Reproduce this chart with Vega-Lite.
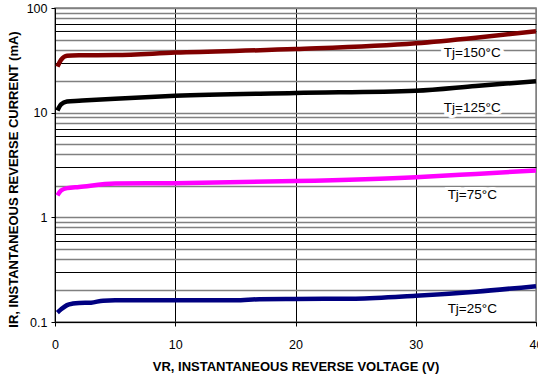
{
  "$schema": "https://vega.github.io/schema/vega-lite/v6.json",
  "width": 481,
  "height": 314,
  "autosize": "none",
  "padding": {"left": 55, "top": 8, "right": 2, "bottom": 57},
  "background": "white",
  "config": {
    "font": "Liberation Sans",
    "view": {"stroke": "#808080", "strokeWidth": 1.5},
    "axis": {"labelFont": "Liberation Sans", "titleFont": "Liberation Sans", "labelColor": "black", "titleColor": "black", "domainColor": "black", "tickColor": "black", "labelFontSize": 12.5, "titleFontSize": 13, "titleFontWeight": "bold"}
  },
  "datasets": {
    "curves": [
      {"v": 0.2, "i": 27.5, "tj": "150"}, {"v": 0.5, "i": 32, "tj": "150"}, {"v": 1, "i": 35, "tj": "150"}, {"v": 2, "i": 35.3, "tj": "150"}, {"v": 5, "i": 35.5, "tj": "150"}, {"v": 10, "i": 37.5, "tj": "150"}, {"v": 20, "i": 40.5, "tj": "150"}, {"v": 30, "i": 46, "tj": "150"}, {"v": 35, "i": 52, "tj": "150"}, {"v": 40, "i": 60, "tj": "150"},
      {"v": 0.2, "i": 10.5, "tj": "125"}, {"v": 0.5, "i": 12, "tj": "125"}, {"v": 1, "i": 12.8, "tj": "125"}, {"v": 2, "i": 13, "tj": "125"}, {"v": 5, "i": 13.6, "tj": "125"}, {"v": 10, "i": 14.5, "tj": "125"}, {"v": 20, "i": 15.4, "tj": "125"}, {"v": 30, "i": 16.2, "tj": "125"}, {"v": 35, "i": 18, "tj": "125"}, {"v": 40, "i": 20, "tj": "125"},
      {"v": 0.2, "i": 1.62, "tj": "75"}, {"v": 0.5, "i": 1.8, "tj": "75"}, {"v": 1, "i": 1.9, "tj": "75"}, {"v": 2, "i": 1.95, "tj": "75"}, {"v": 5, "i": 2.1, "tj": "75"}, {"v": 10, "i": 2.12, "tj": "75"}, {"v": 20, "i": 2.22, "tj": "75"}, {"v": 30, "i": 2.42, "tj": "75"}, {"v": 35, "i": 2.6, "tj": "75"}, {"v": 40, "i": 2.8, "tj": "75"},
      {"v": 0.2, "i": 0.123, "tj": "25"}, {"v": 0.5, "i": 0.132, "tj": "25"}, {"v": 1, "i": 0.145, "tj": "25"}, {"v": 1.5, "i": 0.15, "tj": "25"}, {"v": 2, "i": 0.152, "tj": "25"}, {"v": 3, "i": 0.153, "tj": "25"}, {"v": 4, "i": 0.16, "tj": "25"}, {"v": 5, "i": 0.161, "tj": "25"}, {"v": 10, "i": 0.161, "tj": "25"}, {"v": 15, "i": 0.161, "tj": "25"}, {"v": 17, "i": 0.165, "tj": "25"}, {"v": 20, "i": 0.166, "tj": "25"}, {"v": 25, "i": 0.167, "tj": "25"}, {"v": 30, "i": 0.178, "tj": "25"}, {"v": 35, "i": 0.195, "tj": "25"}, {"v": 40, "i": 0.22, "tj": "25"}
    ],
    "labels": [
      {"v": 34.7, "i": 37.5, "text": "Tj=150°C"},
      {"v": 34.7, "i": 11.2, "text": "Tj=125°C"},
      {"v": 34.7, "i": 1.65, "text": "Tj=75°C"},
      {"v": 34.7, "i": 0.134, "text": "Tj=25°C"}
    ]
  },
  "encoding": {
    "x": {
      "field": "v", "type": "quantitative",
      "scale": {"domain": [0, 40], "nice": false},
      "axis": {
        "values": [0, 10, 20, 30, 40],
        "title": "VR, INSTANTANEOUS REVERSE VOLTAGE (V)",
        "titlePadding": 10,
        "tickSize": 4, "labelPadding": 12, "labelFlush": false,
        "grid": true,
        "gridColor": {"condition": {"test": "datum.value == 40", "value": "#808080"}, "value": "black"},
        "gridWidth": 1
      }
    },
    "y": {
      "field": "i", "type": "quantitative",
      "scale": {"type": "log", "domain": [0.1, 100], "nice": false},
      "axis": {
        "values": [0.1, 0.2, 0.3, 0.4, 0.5, 0.6, 0.7, 0.8, 0.9, 1, 2, 3, 4, 5, 6, 7, 8, 9, 10, 20, 30, 40, 50, 60, 70, 80, 90, 100],
        "labelExpr": "abs(log(datum.value)/LN10 - round(log(datum.value)/LN10)) < 0.001 ? format(datum.value, '~g') : ''",
        "tickOpacity": {"condition": {"test": "abs(log(datum.value)/LN10 - round(log(datum.value)/LN10)) < 0.001", "value": 1}, "value": 0},
        "tickSize": 4, "labelPadding": 4, "labelFlush": false,
        "title": "IR, INSTANTANEOUS REVERSE CURRENT (mA)",
        "titlePadding": 6,
        "titleY": 171,
        "grid": true,
        "gridColor": {"condition": {"test": "indexof([3,6,7], round(datum.value / pow(10, floor(log(datum.value)/LN10 + 1e-9)))) >= 0", "value": "black"}, "value": "#808080"},
        "gridWidth": {"condition": {"test": "indexof([3,6,7], round(datum.value / pow(10, floor(log(datum.value)/LN10 + 1e-9)))) >= 0", "value": 1}, "value": 1.5}
      }
    }
  },
  "layer": [
    {
      "data": {"name": "curves"},
      "mark": {"type": "line", "strokeWidth": 4.5, "interpolate": "monotone"},
      "encoding": {
        "detail": {"field": "tj"},
        "color": {"field": "tj", "type": "nominal", "legend": null,
          "scale": {"domain": ["150", "125", "75", "25"], "range": ["#800000", "#000000", "#FF00FF", "#000080"]}}
      }
    },
    {
      "data": {"name": "labels"},
      "mark": {"type": "text", "fontSize": 13.5, "font": "Liberation Sans", "stroke": "white", "strokeWidth": 6, "align": "center", "baseline": "middle"},
      "encoding": {"text": {"field": "text"}}
    },
    {
      "data": {"name": "labels"},
      "mark": {"type": "text", "fontSize": 13.5, "font": "Liberation Sans", "color": "black", "align": "center", "baseline": "middle"},
      "encoding": {"text": {"field": "text"}}
    }
  ]
}
